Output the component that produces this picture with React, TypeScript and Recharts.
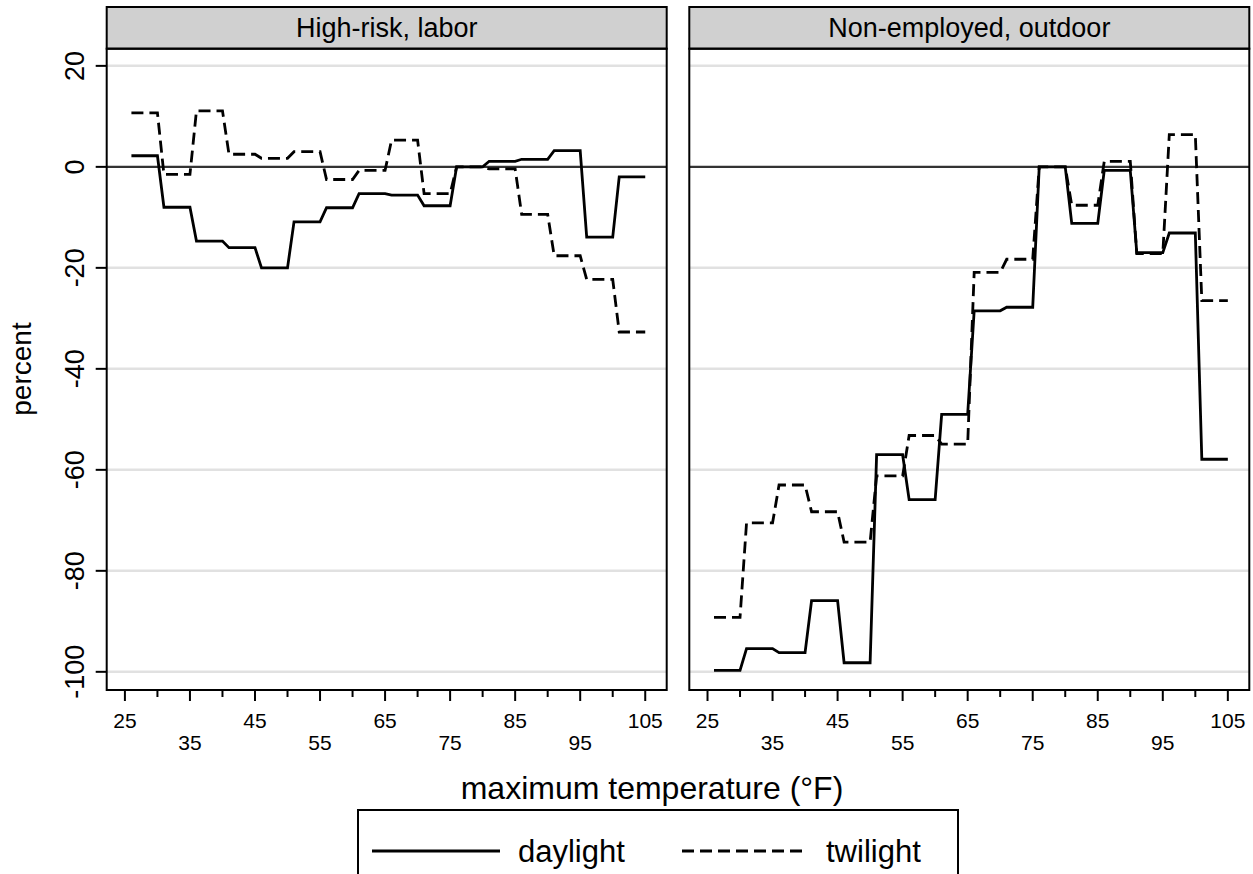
import React from 'react';
import { LineChart, Line, XAxis, YAxis, ReferenceLine } from 'recharts';

// temperature bins (°F)
const binLow = [26, 31, 36, 41, 46, 51, 56, 61, 66, 71, 76, 81, 86, 91, 96, 101];
const binHigh = [30, 35, 40, 45, 50, 55, 60, 65, 70, 75, 80, 85, 90, 95, 100, 105];

// percent change per bin
const laborDaylight = [2.2, -8.0, -14.7, -16.0, -20.0, -10.9, -8.1, -5.3, -5.6, -7.7, 0, 1.1, 1.5, 3.2, -13.9, -2.0];
const laborTwilight = [10.7, -1.5, 11.1, 2.5, 1.7, 3.0, -2.5, -0.7, 5.3, -5.3, 0, -0.4, -9.4, -17.6, -22.3, -32.7];
const outdoorDaylight = [-99.7, -95.4, -96.2, -85.9, -98.2, -57.0, -65.9, -49.0, -28.5, -27.8, 0, -11.2, -0.7, -17.0, -13.1, -57.9];
const outdoorTwilight = [-89.2, -70.5, -63.0, -68.3, -74.3, -61.2, -53.2, -54.9, -20.9, -18.3, 0, -7.6, 1.1, -17.2, 6.4, -26.5];

const panelTitles = ['High-risk, labor', 'Non-employed, outdoor'];
const seriesNames = ['daylight', 'twilight'];

const xTicks = [25, 30, 35, 40, 45, 50, 55, 60, 65, 70, 75, 80, 85, 90, 95, 100, 105];
const xLabelsTop = [25, 45, 65, 85, 105];
const xLabelsBottom = [35, 55, 75, 95];
const yTicks = [20, 0, -20, -40, -60, -80, -100];
const gridValues = [20, -20, -40, -60, -80, -100];

const W = 1253;
const H = 874;
const PLOT_TOP = 48.7;
const PLOT_BOTTOM = 690;
const PLOT_W = 560;
const PANEL_LEFT = [106.7, 689.3];
const FONT = '"Liberation Sans", Arial, Helvetica, sans-serif';

const buildRows = (day: number[], twi: number[]) =>
  binLow.flatMap((lo, i) => [
    { temp: lo, daylight: day[i], twilight: twi[i] },
    { temp: binHigh[i], daylight: day[i], twilight: twi[i] },
  ]);

const panelRows = [buildRows(laborDaylight, laborTwilight), buildRows(outdoorDaylight, outdoorTwilight)];

const XTick = (props: any) => {
  const { x, y, payload } = props;
  const v = payload.value;
  const top = xLabelsTop.includes(v);
  const bottom = xLabelsBottom.includes(v);
  const major = top || bottom;
  return (
    <g>
      <line x1={x} x2={x} y1={y} y2={y + (major ? 11 : 7)} stroke="#000" strokeWidth={2} />
      {major && (
        <text x={x} y={y + (top ? 37.5 : 60)} textAnchor="middle" fontSize={21} fontFamily={FONT} fill="#000">
          {v}
        </text>
      )}
    </g>
  );
};

const YTick = (props: any) => {
  const { x, y, payload } = props;
  const tx = x - 22.7;
  return (
    <g>
      <line x1={x - 11} x2={x} y1={y} y2={y} stroke="#000" strokeWidth={2} />
      <text x={tx} y={y} transform={`rotate(-90 ${tx} ${y})`} textAnchor="middle" fontSize={27} fontFamily={FONT} fill="#000">
        {payload.value}
      </text>
    </g>
  );
};

const Panel = ({ index }: { index: number }) => {
  const left = PANEL_LEFT[index];
  return (
    <div style={{ position: 'absolute', left: 0, top: 0 }}>
      <LineChart
        width={W}
        height={H}
        data={panelRows[index]}
        margin={{ top: PLOT_TOP, bottom: H - PLOT_BOTTOM - 1, left: left - 1, right: W - left - PLOT_W }}
      >
        <XAxis
          type="number"
          dataKey="temp"
          domain={[22.2, 108.3]}
          ticks={xTicks}
          interval={0}
          allowDataOverflow
          height={1}
          tickSize={0}
          tickMargin={0}
          axisLine={false}
          tickLine={false}
          tick={<XTick />}
        />
        <YAxis
          type="number"
          domain={[-103.6, 23.4]}
          ticks={yTicks}
          interval={0}
          allowDataOverflow
          width={1}
          tickSize={0}
          tickMargin={0}
          axisLine={false}
          tickLine={false}
          tick={index === 0 ? <YTick /> : false}
        />
        {gridValues.map((g) => (
          <ReferenceLine key={g} y={g} stroke="#e1e1e1" strokeWidth={2.5} />
        ))}
        <ReferenceLine y={0} stroke="#333" strokeWidth={2.2} />
        <Line
          type="linear"
          dataKey="daylight"
          stroke="#000"
          strokeWidth={2.8}
          dot={false}
          isAnimationActive={false}
        />
        <Line
          type="linear"
          dataKey="twilight"
          stroke="#000"
          strokeWidth={2.8}
          strokeDasharray="12 6"
          dot={false}
          isAnimationActive={false}
        />
      </LineChart>
    </div>
  );
};

export default function App() {
  return (
    <div style={{ position: 'absolute', left: 0, top: 0, width: W, height: H, background: '#fff', overflow: 'hidden' }}>
      <Panel index={0} />
      <Panel index={1} />
      <svg width={W} height={H} style={{ position: 'absolute', left: 0, top: 0, pointerEvents: 'none' }}>
        {PANEL_LEFT.map((left, i) => (
          <g key={i}>
            <rect x={left} y={7} width={PLOT_W} height={PLOT_TOP - 7} fill="#d0d0d0" stroke="#000" strokeWidth={2} />
            <text x={left + PLOT_W / 2} y={37} textAnchor="middle" fontSize={27} fontFamily={FONT} fill="#000">
              {panelTitles[i]}
            </text>
            <rect x={left} y={PLOT_TOP} width={PLOT_W} height={PLOT_BOTTOM - PLOT_TOP} fill="none" stroke="#000" strokeWidth={2} />
          </g>
        ))}
        <text x={31} y={369} transform="rotate(-90 31 369)" textAnchor="middle" fontSize={28} fontFamily={FONT} fill="#000">
          percent
        </text>
        <text x={652} y={799} textAnchor="middle" fontSize={32} fontFamily={FONT} fill="#000">
          maximum temperature (°F)
        </text>
        <rect x={358} y={810} width={600} height={100} fill="#fff" stroke="#000" strokeWidth={2} />
        <line x1={372} x2={500} y1={851} y2={851} stroke="#000" strokeWidth={2.8} />
        <text x={518} y={862} fontSize={31} fontFamily={FONT} fill="#000">{seriesNames[0]}</text>
        <line x1={682} x2={808} y1={851} y2={851} stroke="#000" strokeWidth={2.8} strokeDasharray="12 6" />
        <text x={826} y={862} fontSize={31} fontFamily={FONT} fill="#000">{seriesNames[1]}</text>
      </svg>
    </div>
  );
}
